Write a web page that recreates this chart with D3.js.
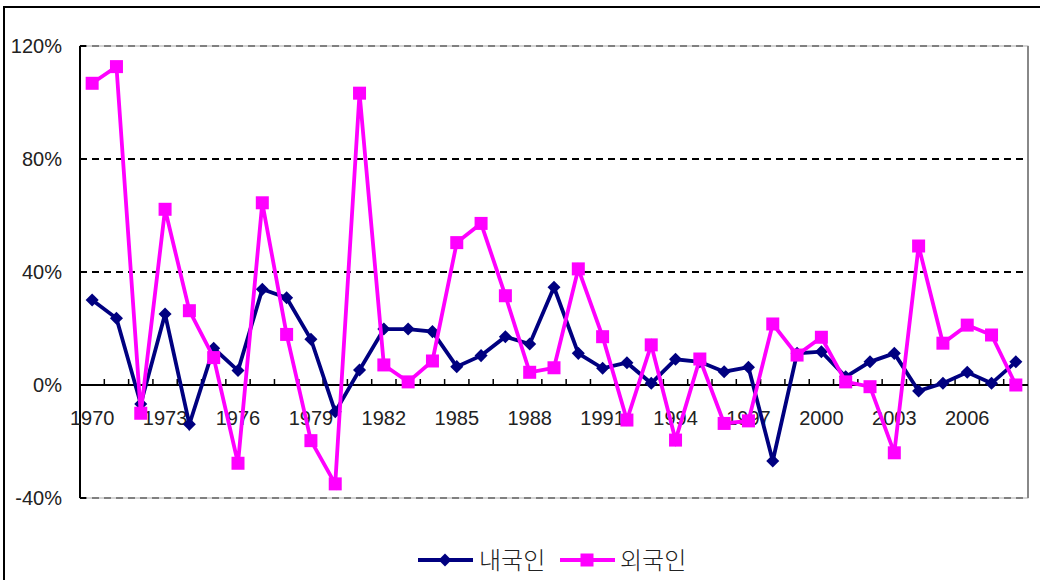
<!DOCTYPE html>
<html>
<head>
<meta charset="utf-8">
<script src="https://d3js.org/d3.v7.min.js"></script>
<style>
  body { margin: 0; background: #fff; }
  text { font-family: "Liberation Sans", Arial, sans-serif; fill: #222; }
  .kr { font-family: "Noto Sans CJK KR", sans-serif; font-weight: 300; }
</style>
</head>
<body>
<svg id="chart" width="1040" height="580"></svg>
<script>
const years = d3.range(1970, 2009);
const domestic = [30.1, 23.6, -6.7, 25.1, -13.9, 13.0, 5.1, 33.9, 30.9, 16.2,
  -9.5, 5.3, 19.8, 19.8, 18.9, 6.5, 10.4, 17.1, 14.5, 34.6,
  11.2, 5.9, 7.9, 0.6, 9.1, 8.2, 4.7, 6.3, -26.9, 11.2,
  11.8, 2.9, 8.2, 11.2, -2.1, 0.6, 4.5, 0.6, 8.2];
const foreign = [106.8, 112.7, -10.0, 62.2, 26.3, 9.7, -27.7, 64.5, 17.9, -19.7,
  -35.0, 103.3, 7.1, 1.1, 8.5, 50.4, 57.2, 31.6, 4.5, 6.1,
  41.1, 17.1, -12.4, 14.2, -19.5, 9.2, -13.6, -12.7, 21.6, 10.6,
  16.9, 1.1, -0.6, -24.0, 49.2, 14.8, 21.2, 17.7, 0.0];
const yTicks = [-40, 0, 40, 80, 120];
const seriesNames = ["내국인", "외국인"];

const svg = d3.select("#chart");
const pLeft = 80, pRight = 1028, pTop = 46, pBottom = 498;

// outer chart frame
svg.append("rect").attr("x", 4).attr("y", 7).attr("width", 1100).attr("height", 700)
  .style("fill", "none").style("stroke", "#000").style("stroke-width", 2);

const x = d3.scaleBand().domain(years).range([pLeft, pRight]);
const y = d3.scaleLinear().domain([-40, 120]).range([pBottom, pTop]);

// plot border
svg.append("rect").attr("x", pLeft).attr("y", pTop).attr("width", pRight - pLeft).attr("height", pBottom - pTop)
  .style("fill", "none").style("stroke", "#aaa").style("stroke-width", 1);
svg.append("line").attr("x1", pRight).attr("x2", pRight).attr("y1", pTop).attr("y2", pBottom)
  .style("stroke", "#888").style("stroke-width", 2);

// gridlines
yTicks.filter(d => d != 0).forEach(d => {
  let edge = (d == 120 || d == -40);
  svg.append("line")
    .attr("x1", pLeft).attr("x2", pRight)
    .attr("y1", y(d)).attr("y2", y(d))
    .style("stroke", edge ? "#808080" : "#000")
    .style("stroke-width", 2)
    .style("stroke-dasharray", "7,5");
});

// y axis
svg.append("line").attr("x1", pLeft).attr("x2", pLeft).attr("y1", pTop).attr("y2", pBottom)
  .style("stroke", "#000").style("stroke-width", 2);
yTicks.forEach(d => {
  svg.append("line").attr("x1", pLeft).attr("x2", pLeft + 6).attr("y1", y(d)).attr("y2", y(d))
    .style("stroke", "#000").style("stroke-width", 2);
  svg.append("text")
    .text(d + "%")
    .attr("x", 62).attr("y", y(d) + 7)
    .style("font-size", "20px")
    .style("text-anchor", "end");
});

// x axis at 0
svg.append("line").attr("x1", pLeft).attr("x2", pRight).attr("y1", y(0)).attr("y2", y(0))
  .style("stroke", "#000").style("stroke-width", 2);
years.forEach((yr, i) => {
  if (i > 0) {
    svg.append("line").attr("x1", x(yr)).attr("x2", x(yr)).attr("y1", y(0) - 6).attr("y2", y(0))
      .style("stroke", "#000").style("stroke-width", 1.5);
  }
  if (i % 3 == 0) {
    svg.append("text")
      .text(yr)
      .attr("x", x(yr) + x.bandwidth() / 2)
      .attr("y", y(0) + 40)
      .style("font-size", "20px")
      .style("text-anchor", "middle");
  }
});

const cx = yr => x(yr) + x.bandwidth() / 2;
const line = d3.line().x((d, i) => cx(years[i])).y(d => y(d));

function drawDiamond(g, px, py, color) {
  g.append("path")
    .attr("d", d3.symbol().type(d3.symbolSquare).size(85)())
    .attr("transform", `translate(${px},${py}) rotate(45)`)
    .style("fill", color);
}
function drawSquare(g, px, py, color) {
  g.append("rect").attr("x", px - 6.5).attr("y", py - 6.5).attr("width", 13).attr("height", 13)
    .style("fill", color);
}

// domestic series
svg.append("path").datum(domestic).attr("d", line)
  .style("fill", "none").style("stroke", "#000080").style("stroke-width", 3.8);
domestic.forEach((d, i) => drawDiamond(svg, cx(years[i]), y(d), "#000080"));

// foreign series
svg.append("path").datum(foreign).attr("d", line)
  .style("fill", "none").style("stroke", "#ff00ff").style("stroke-width", 3.8);
foreign.forEach((d, i) => drawSquare(svg, cx(years[i]), y(d), "#ff00ff"));

// legend
const ly = 560;
svg.append("line").attr("x1", 418).attr("x2", 473).attr("y1", ly).attr("y2", ly)
  .style("stroke", "#000080").style("stroke-width", 3.8);
drawDiamond(svg, 445, ly, "#000080");
svg.append("text").attr("class", "kr").text(seriesNames[0])
  .attr("x", 479).attr("y", ly + 9).style("font-size", "24px");
svg.append("line").attr("x1", 560).attr("x2", 615).attr("y1", ly).attr("y2", ly)
  .style("stroke", "#ff00ff").style("stroke-width", 3.8);
drawSquare(svg, 587, ly, "#ff00ff");
svg.append("text").attr("class", "kr").text(seriesNames[1])
  .attr("x", 620).attr("y", ly + 9).style("font-size", "24px");
</script>
</body>
</html>
